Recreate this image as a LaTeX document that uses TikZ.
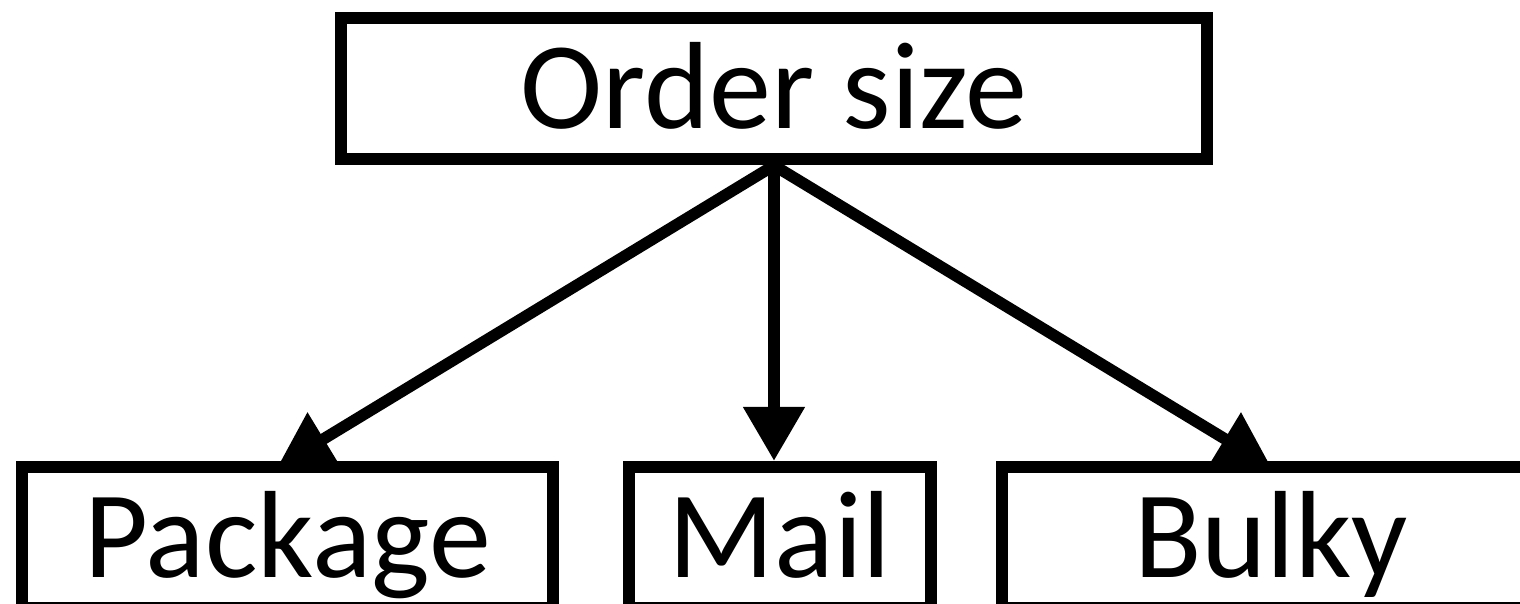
\documentclass[tikz,border=0pt]{standalone}
\usepackage{fontspec}
\setmainfont{Carlito}
\usetikzlibrary{arrows.meta,backgrounds}

\begin{document}
\begin{tikzpicture}[
  box/.style = {draw, line width = 0.12cm, fill = white, inner sep = 0pt,
    text height = 22.6pt, text depth = 0pt,
    font = \fontsize{35.3}{42}\selectfont},
  arr/.style = {line width = 0.115cm,
    -{Triangle[length = 0.54cm, width = 0.59cm]}}
]
\useasboundingbox (0, 0) rectangle (15.2, -6.04);
\node (order) [box, minimum width = 8.66cm, minimum height = 1.415cm]
  at (7.74, -0.8875) {Order size};
\node (package) [box, minimum width = 5.31cm, minimum height = 1.41cm]
  at (2.875, -5.374) {Package};
\node (mail) [box, minimum width = 3.02cm, minimum height = 1.41cm]
  at (7.80, -5.374) {Mail};
\node (bulky) [box, minimum width = 5.38cm, minimum height = 1.41cm]
  at (12.71, -5.374) {Bulky};
% arrows go behind the boxes, so the side tips are cut by the top edge
\begin{scope}[on background layer]
\draw [arr] (order.south) -- ([xshift = -0.1cm, yshift = -0.06cm]package.north);
\draw [arr] (order.south) -- (order.south |- mail.north);
\draw [arr] (order.south) -- ([yshift = -0.06cm]bulky.north);
\end{scope}
\end{tikzpicture}
\end{document}
